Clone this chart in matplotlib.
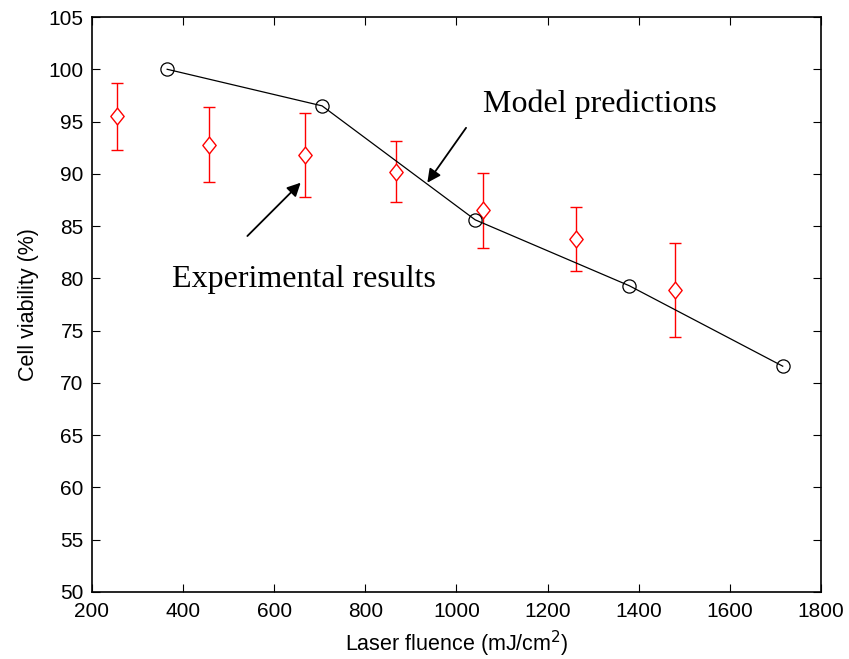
import matplotlib
matplotlib.use("Agg")
import matplotlib.pyplot as plt
from matplotlib.path import Path

# Model predictions
model_fluence = [365, 705, 1041, 1379, 1716]
model_viability = [100.0, 96.5, 85.6, 79.3, 71.6]

# Experimental results (mean +/- error)
exp_fluence = [254, 457, 668, 867, 1059, 1262, 1480]
exp_viability = [95.5, 92.8, 91.8, 90.2, 86.5, 83.8, 78.9]
exp_error = [3.2, 3.55, 4.0, 2.9, 3.6, 3.05, 4.5]

x_ticks = list(range(200, 1801, 200))
y_ticks = list(range(50, 106, 5))

fig = plt.figure(figsize=(8.49, 6.59), dpi=100)
ax = fig.add_axes([0.10836, 0.10167, 0.85866, 0.87253])

# slightly tall diamond marker
diamond = Path([(0, 1), (0.8, 0), (0, -1), (-0.8, 0), (0, 1)],
               [Path.MOVETO, Path.LINETO, Path.LINETO, Path.LINETO, Path.CLOSEPOLY])

ax.errorbar(exp_fluence, exp_viability, yerr=exp_error, fmt='none',
            ecolor='red', elinewidth=1.0, capsize=4, capthick=1.0, zorder=2)
ax.plot(exp_fluence, exp_viability, linestyle='none', marker=diamond,
        markersize=12, markerfacecolor='white', markeredgecolor='red',
        markeredgewidth=1.0, zorder=3)

ax.plot(model_fluence, model_viability, color='black', linewidth=0.9,
        marker='o', markersize=9.5, markerfacecolor='none',
        markeredgecolor='black', markeredgewidth=0.9, zorder=4)

serif = ['Liberation Serif', 'DejaVu Serif']
ax.text(1059, 95.95, 'Model predictions', family=serif, fontsize=23,
        va='baseline', ha='left')
ax.annotate('', xy=(936, 89.15), xytext=(1021, 94.4),
            arrowprops=dict(arrowstyle='-|>', color='black', lw=1.3,
                            mutation_scale=20, shrinkA=0, shrinkB=0))
ax.text(375, 79.15, 'Experimental results', family=serif, fontsize=23,
        va='baseline', ha='left')
ax.annotate('', xy=(658, 89.15), xytext=(541, 84.05),
            arrowprops=dict(arrowstyle='-|>', color='black', lw=1.3,
                            mutation_scale=20, shrinkA=0, shrinkB=0))

ax.set_xlim(200, 1800)
ax.set_ylim(50, 105)
ax.set_xticks(x_ticks)
ax.set_yticks(y_ticks)
sans = ['Liberation Sans', 'DejaVu Sans']
for lab in ax.get_xticklabels() + ax.get_yticklabels():
    lab.set_family(sans)
    lab.set_fontsize(15)
ax.tick_params(direction='in', top=True, right=True, length=6, width=0.8)
ax.tick_params(axis='x', pad=7)
ax.tick_params(axis='y', pad=6)
for s in ax.spines.values():
    s.set_linewidth(1.2)

ax.set_xlabel('Laser fluence (mJ/cm$^2$)', family=sans, fontsize=15.5, labelpad=6)
ax.set_ylabel('Cell viability (%)', family=sans, fontsize=15.5, labelpad=7)

fig.savefig('out.png', dpi=100)
